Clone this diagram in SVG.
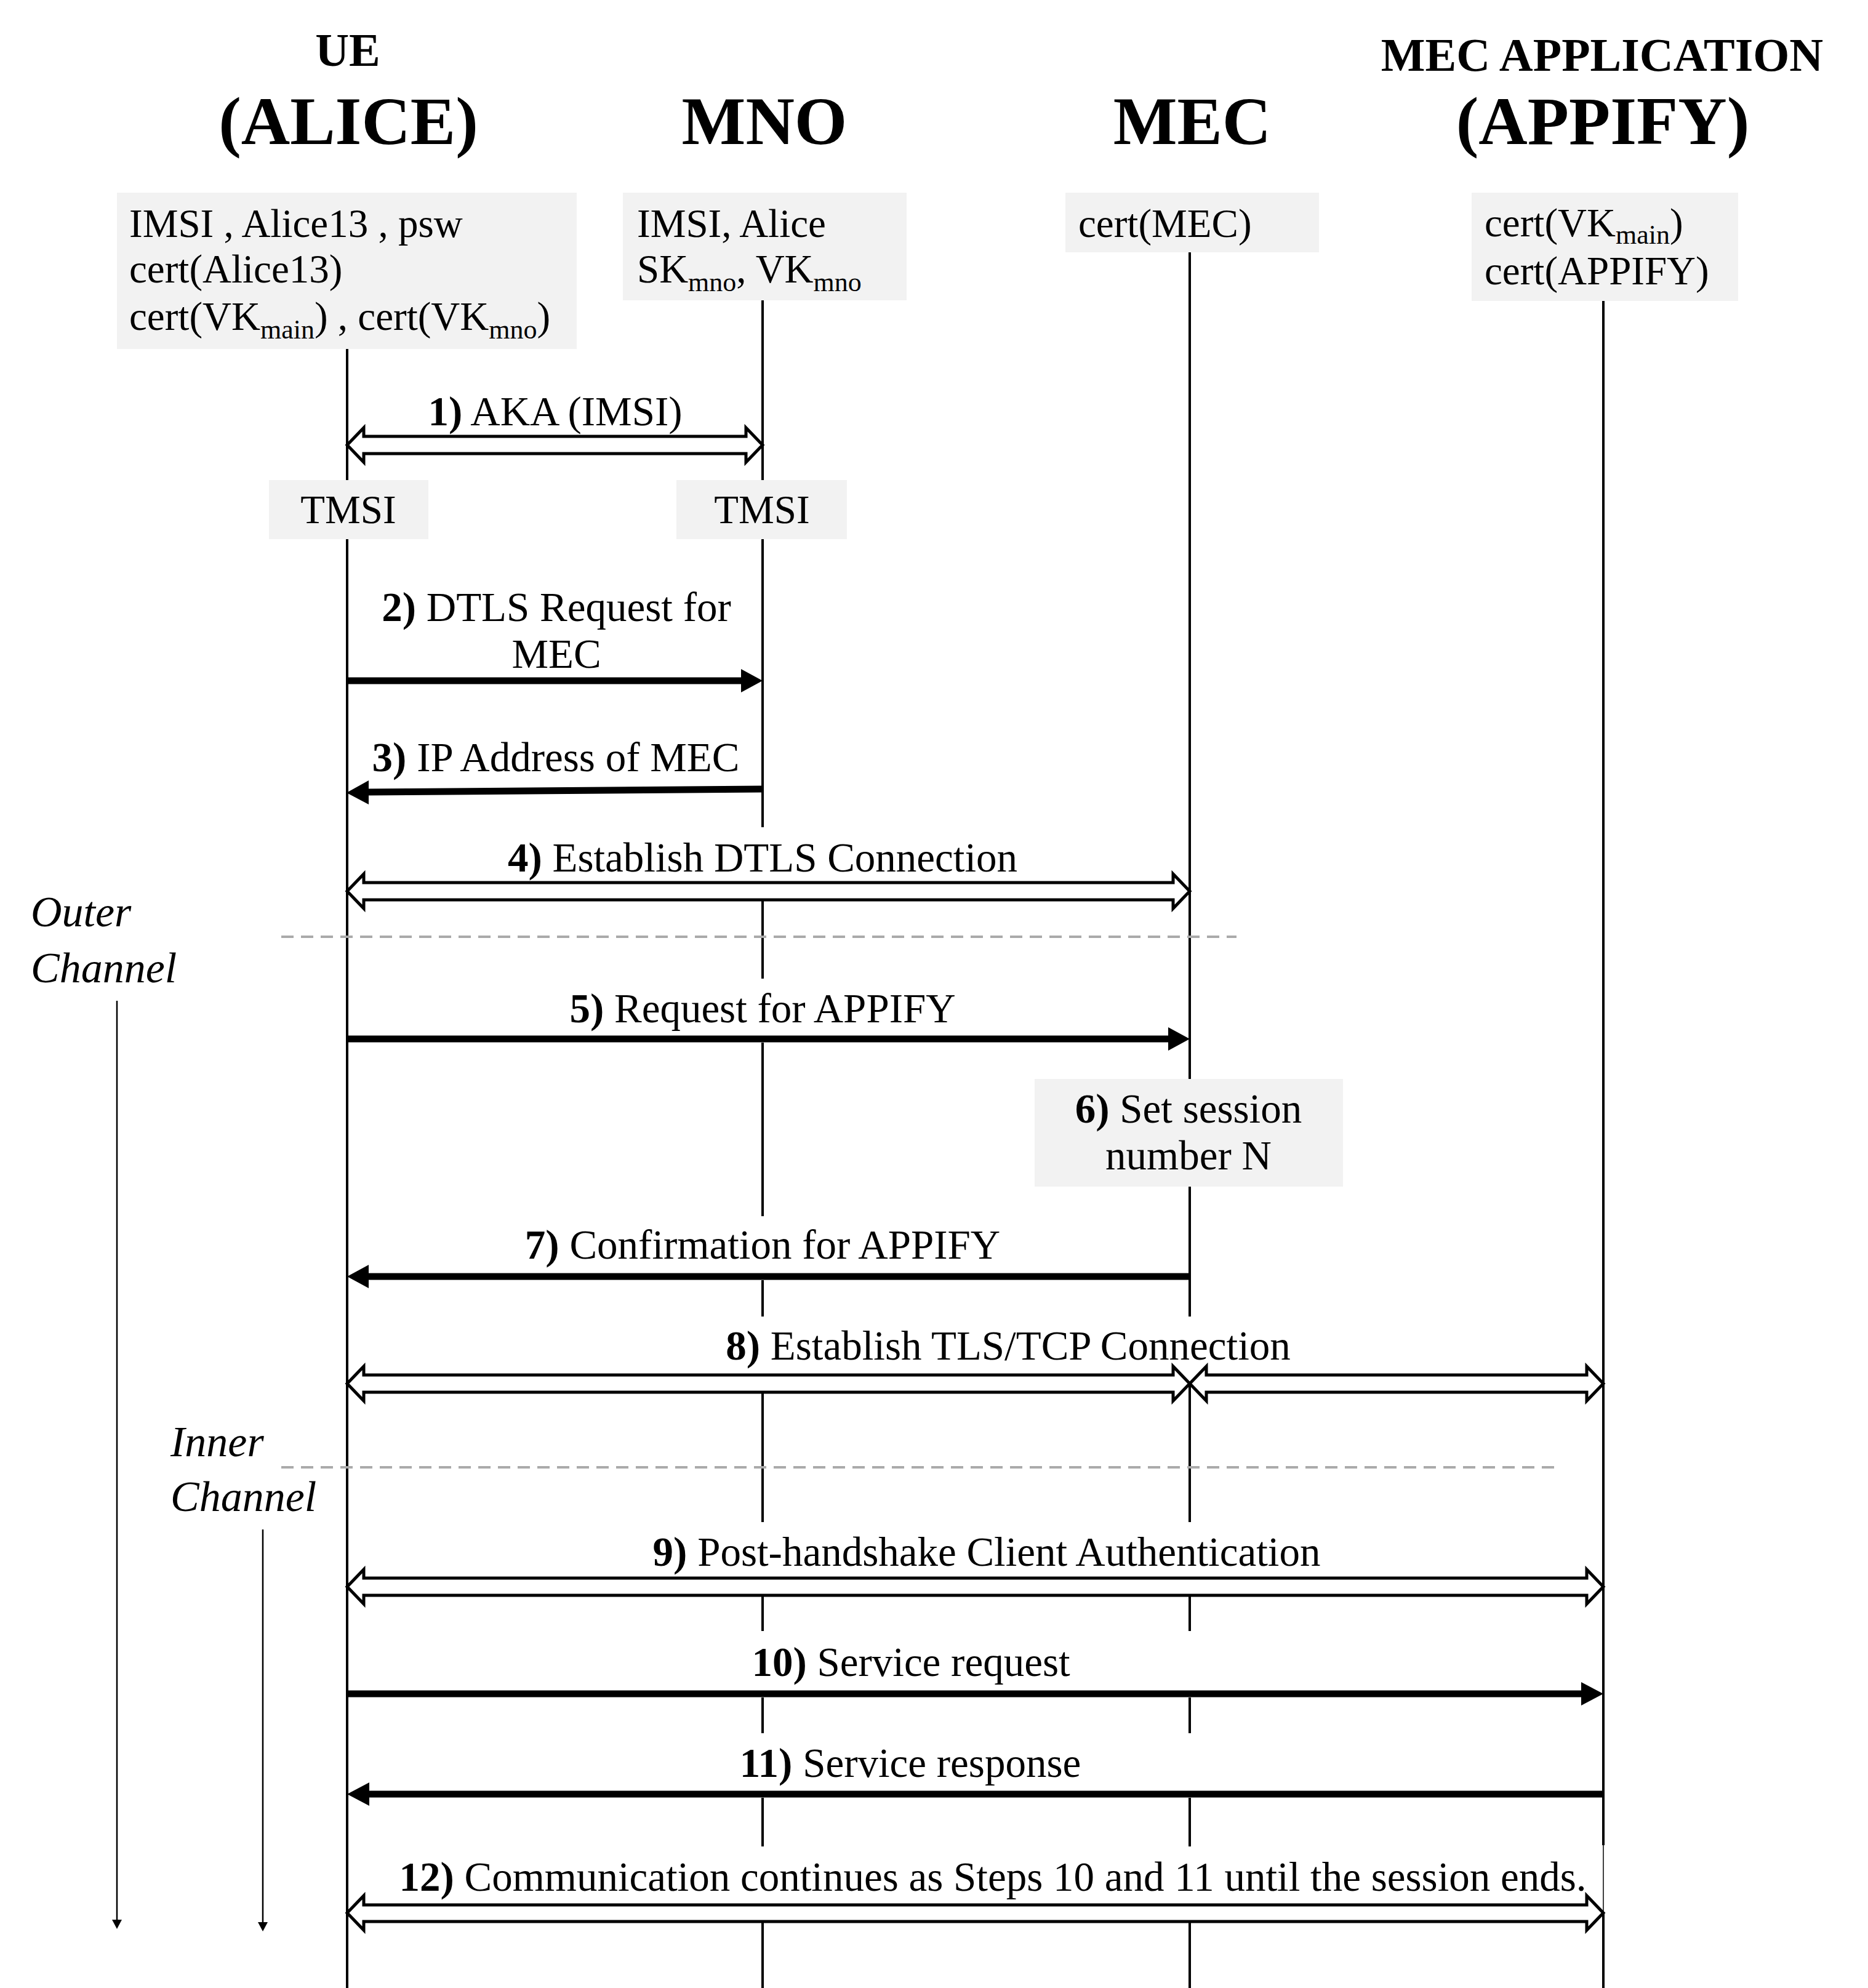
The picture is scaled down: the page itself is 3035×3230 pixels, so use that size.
<svg xmlns="http://www.w3.org/2000/svg" width="3035" height="3230" viewBox="0 0 3035 3230">
<defs>
<style>
text{font-family:"Liberation Serif","Times New Roman",serif;fill:#000}
.h1{font-size:76px;font-weight:bold;text-anchor:middle}
.h2{font-size:110px;font-weight:bold;text-anchor:middle}
.bx{font-size:65px}
.sub{font-size:44px}
.lbl{font-size:67px;text-anchor:middle}
.b{font-weight:bold}
.it{font-size:70px;font-style:italic}
.note{fill:#f2f2f2}
.life{stroke:#000;stroke-width:4;fill:none}
.dash{stroke:#aaaaaa;stroke-width:4;stroke-dasharray:20 12;fill:none}
.dbl{fill:#fff;stroke:#000;stroke-width:5;stroke-linejoin:miter}
.sol{stroke:#000;stroke-width:11;fill:none}
.head{fill:#000}
.thin{stroke:#000;stroke-width:2.5;fill:none}
</style>
</defs>
<rect width="3035" height="3230" fill="#fff"/>

<g id="lifelines">
<path class="life" d="M564 567V780M564 876V3230"/>
<path class="life" d="M1239 488V780M1239 876V1344M1239 1463V1590M1239 1694V1976M1239 2080V2139M1239 2264V2473M1239 2593V2650M1239 2758V2816M1239 2921V3000M1239 3124V3230"/>
<path class="life" d="M1933 410V1753M1933 1928V2139M1933 2248V2473M1933 2593V2650M1933 2758V2816M1933 2921V3000M1933 3124V3230"/>
<path class="life" d="M2605 489V2998M2605 3107V3230"/>
<path d="M2605 2998V3107" stroke="#000" stroke-width="1.5"/>
</g>

<g id="node-ue">
<text class="h1" x="565" y="107">UE</text>
<text class="h2" x="566" y="234">(ALICE)</text>
<rect class="note" x="190" y="313" width="747" height="254"/>
<text class="bx" x="210" y="385">IMSI , Alice13 , psw</text>
<text class="bx" x="210" y="459">cert(Alice13)</text>
<text class="bx" x="210" y="536">cert(VK<tspan class="sub" dy="14">main</tspan><tspan dy="-14">) , cert(VK</tspan><tspan class="sub" dy="14">mno</tspan><tspan dy="-14">)</tspan></text>
</g>

<g id="node-mno">
<text class="h2" x="1242" y="234">MNO</text>
<rect class="note" x="1012" y="313" width="461" height="175"/>
<text class="bx" x="1035" y="385">IMSI, Alice</text>
<text class="bx" x="1035" y="459">SK<tspan class="sub" dy="14">mno</tspan><tspan dy="-14">, VK</tspan><tspan class="sub" dy="14">mno</tspan></text>
</g>

<g id="node-mec">
<text class="h2" x="1937" y="234">MEC</text>
<rect class="note" x="1731" y="313" width="412" height="97"/>
<text class="bx" x="1752" y="385">cert(MEC)</text>
</g>

<g id="node-appify">
<text class="h1" x="2603" y="115">MEC APPLICATION</text>
<text class="h2" x="2604" y="234">(APPIFY)</text>
<rect class="note" x="2391" y="313" width="433" height="176"/>
<text class="bx" x="2412" y="384">cert(VK<tspan class="sub" dy="12">main</tspan><tspan dy="-12">)</tspan></text>
<text class="bx" x="2412" y="462">cert(APPIFY)</text>
</g>

<g id="node-tmsi-ue">
<rect class="note" x="437" y="780" width="259" height="96"/>
<text class="bx" x="566" y="850" text-anchor="middle">TMSI</text>
</g>
<g id="node-tmsi-mno">
<rect class="note" x="1099" y="780" width="277" height="96"/>
<text class="bx" x="1238" y="850" text-anchor="middle">TMSI</text>
</g>

<g id="node-step6">
<rect class="note" x="1681" y="1753" width="501" height="175"/>
<text class="lbl" x="1931" y="1824"><tspan class="b">6)</tspan> Set session</text>
<text class="lbl" x="1931" y="1900">number N</text>
</g>

<g id="channels">
<line class="dash" x1="457" y1="1522" x2="2009" y2="1522"/>
<line class="dash" x1="457" y1="2384" x2="2530" y2="2384"/>
<text class="it" x="50" y="1505">Outer</text>
<text class="it" x="50" y="1596">Channel</text>
<text class="it" x="277" y="2366">Inner</text>
<text class="it" x="277" y="2455">Channel</text>
<line class="thin" x1="190" y1="1626" x2="190" y2="3120"/>
<polygon class="head" points="182,3119 198,3119 190,3134"/>
<line class="thin" x1="427" y1="2485" x2="427" y2="3124"/>
<polygon class="head" points="419,3123 435,3123 427,3138"/>
</g>

<g id="connectors">
<path class="dbl" d="M564 723L591 695V709H1212V695L1239 723L1212 751V737H591V751Z"/>
<text class="lbl" x="902" y="691"><tspan class="b">1)</tspan> AKA (IMSI)</text>
<line class="sol" x1="564" y1="1106" x2="1210" y2="1106"/>
<polygon class="head" points="1204,1087 1239,1106 1204,1125"/>
<text class="lbl" x="904" y="1009"><tspan class="b">2)</tspan> DTLS Request for</text>
<text class="lbl" x="904" y="1085">MEC</text>
<line class="sol" x1="1239" y1="1282" x2="594" y2="1287"/>
<polygon class="head" points="599,1268 563,1288 599,1307"/>
<text class="lbl" x="903" y="1253"><tspan class="b">3)</tspan> IP Address of MEC</text>
<path class="dbl" d="M564 1448L591 1420V1434H1906V1420L1933 1448L1906 1476V1462H591V1476Z"/>
<text class="lbl" x="1239" y="1416"><tspan class="b">4)</tspan> Establish DTLS Connection</text>
<line class="sol" x1="564" y1="1688" x2="1904" y2="1688"/>
<polygon class="head" points="1898,1669 1933,1688 1898,1707"/>
<text class="lbl" x="1239" y="1661"><tspan class="b">5)</tspan> Request for APPIFY</text>
<line class="sol" x1="1933" y1="2074" x2="594" y2="2074"/>
<polygon class="head" points="599,2055 564,2074 599,2093"/>
<text class="lbl" x="1239" y="2045"><tspan class="b">7)</tspan> Confirmation for APPIFY</text>
<path class="dbl" d="M564 2248L591 2220V2234H1906V2220L1933 2248L1906 2276V2262H591V2276Z"/>
<path class="dbl" d="M1933 2248L1960 2220V2234H2578V2220L2605 2248L2578 2276V2262H1960V2276Z"/>
<text class="lbl" x="1638" y="2209"><tspan class="b">8)</tspan> Establish TLS/TCP Connection</text>
<path class="dbl" d="M564 2578L591 2550V2564H2578V2550L2605 2578L2578 2606V2592H591V2606Z"/>
<text class="lbl" x="1603" y="2544"><tspan class="b">9)</tspan> Post-handshake Client Authentication</text>
<line class="sol" x1="562" y1="2752" x2="2574" y2="2752"/>
<polygon class="head" points="2569,2733 2605,2752 2569,2771"/>
<text class="lbl" x="1480" y="2723"><tspan class="b">10)</tspan> Service request</text>
<line class="sol" x1="2605" y1="2915" x2="596" y2="2915"/>
<polygon class="head" points="600,2896 564,2915 600,2934"/>
<text class="lbl" x="1479" y="2887"><tspan class="b">11)</tspan> Service response</text>
<path class="dbl" d="M564 3108L591 3080V3095H2578V3080L2605 3108L2578 3136V3122H591V3136Z"/>
<text class="lbl" x="1613" y="3072"><tspan class="b">12)</tspan> Communication continues as Steps 10 and 11 until the session ends.</text>
</g>
</svg>
